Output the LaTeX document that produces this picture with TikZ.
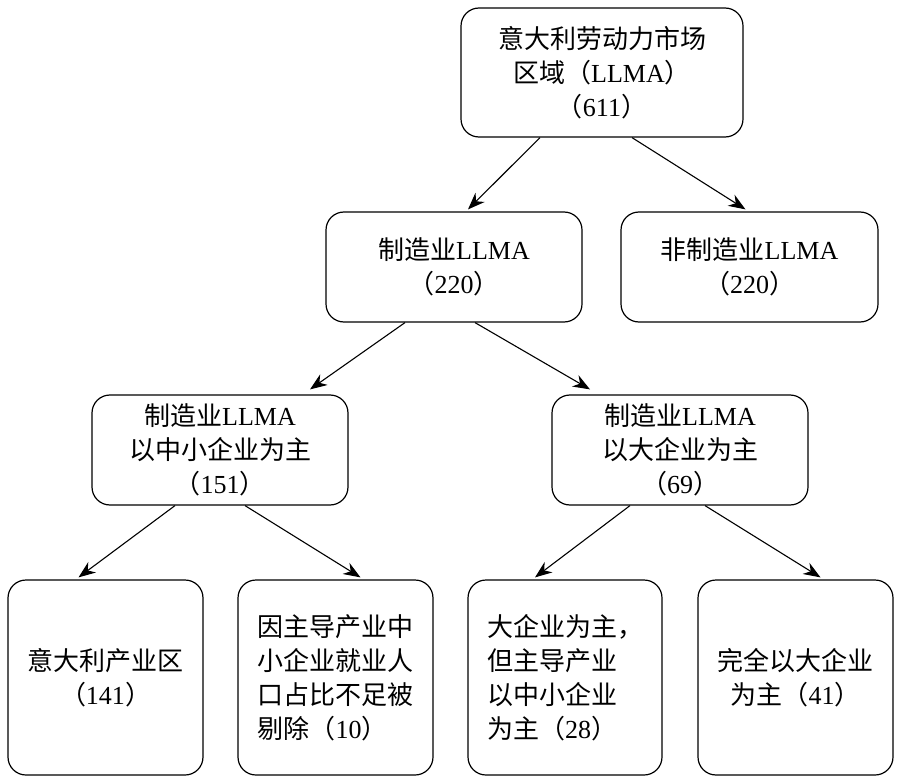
\documentclass[tikz,border=0pt]{standalone}
\usepackage{fontspec}
\setmainfont{Liberation Serif}
\newfontfamily\cjk{Noto Sans CJK SC}
\usetikzlibrary{arrows.meta,calc}
\begin{document}
\begin{tikzpicture}[x=1pt,y=-1pt,
  box/.style={draw,line width=1.2pt,rounded corners=18pt,align=center,inner sep=0pt,
    font=\fontsize{26}{34}\selectfont},
  arr/.style={-{Stealth[length=17pt,width=13pt]},line width=1.1pt}]
\useasboundingbox (0,0) rectangle (903,781);
\node[box,minimum width=282pt,minimum height=129pt] (top) at (602,72.5) {{\cjk 意大利劳动力市场}\\{\cjk 区域（}LLMA{\cjk ）}\\{\cjk （}611{\cjk ）}};
\node[box,minimum width=256pt,minimum height=110pt] (m) at (454,267) {{\cjk 制造业}LLMA\\{\cjk （}220{\cjk ）}};
\node[box,minimum width=257pt,minimum height=110pt] (n) at (749.5,267) {{\cjk 非制造业}LLMA\\{\cjk （}220{\cjk ）}};
\node[box,minimum width=256pt,minimum height=110pt] (s) at (220,450) {{\cjk 制造业}LLMA\\{\cjk 以中小企业为主}\\{\cjk （}151{\cjk ）}};
\node[box,minimum width=256pt,minimum height=110pt] (l) at (680,450) {{\cjk 制造业}LLMA\\{\cjk 以大企业为主}\\{\cjk （}69{\cjk ）}};
\node[box,minimum width=195pt,minimum height=195pt] (b1) at (105.5,677.5) {{\cjk 意大利产业区}\\{\cjk （}141{\cjk ）}};
\node[box,minimum width=195pt,minimum height=195pt,align=left] (b2) at (335.5,677.5) {{\cjk 因主导产业中}\\{\cjk 小企业就业人}\\{\cjk 口占比不足被}\\{\cjk 剔除（}10{\cjk ）}};
\node[box,minimum width=194pt,minimum height=195pt,align=left] (b3) at (565,677.5) {{\cjk 大企业为主，}\\{\cjk 但主导产业}\\{\cjk 以中小企业}\\{\cjk 为主（}28{\cjk ）}};
\node[box,minimum width=195pt,minimum height=195pt] (b4) at (795.5,677.5) {{\cjk 完全以大企业}\\{\cjk 为主（}41{\cjk ）}};
\draw[arr] ($(top.south)+(-62,0)$) -- ($(m.north)+(14,-2)$);
\draw[arr] ($(top.south)+(30,0)$) -- ($(n.north)+(-4,-2)$);
\draw[arr] ($(m.south)+(-49,0)$) -- ($(s.north)+(90,-5)$);
\draw[arr] ($(m.south)+(21,0)$) -- ($(l.north)+(-90,-5)$);
\draw[arr] ($(s.south)+(-45,0)$) -- ($(b1.north)+(-27,-2)$);
\draw[arr] ($(s.south)+(25,0)$) -- ($(b2.north)+(25,-2)$);
\draw[arr] ($(l.south)+(-50,0)$) -- ($(b3.north)+(-30,-2)$);
\draw[arr] ($(l.south)+(25,0)$) -- ($(b4.north)+(25,-2)$);
\end{tikzpicture}
\end{document}
